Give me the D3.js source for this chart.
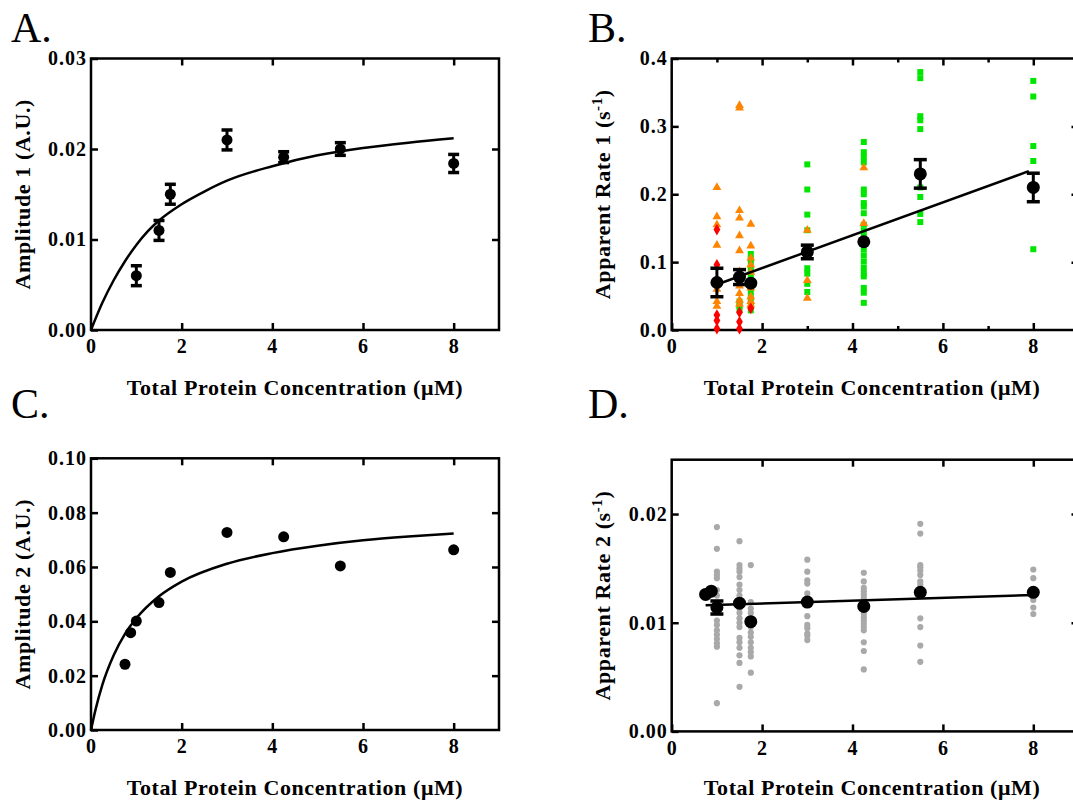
<!DOCTYPE html>
<html>
<head>
<meta charset="utf-8">
<script src="https://cdn.jsdelivr.net/npm/d3@7"></script>
<style>
  body { margin: 0; background: #fff; }
  svg text { font-family: "Liberation Serif", "Times New Roman", serif; }
</style>
</head>
<body>
<svg id="chart" width="1073" height="801"></svg>
<script>
// ---- panel A: amplitude 1 ----
const concA = [1, 1.5, 1.75, 3, 4.25, 5.5, 8];
const amp1 = [0.006, 0.011, 0.015, 0.021, 0.0191, 0.02, 0.0184];
const amp1Err = [0.0011, 0.0011, 0.0011, 0.0011, 0.0006, 0.0007, 0.001];
const amp1FitX = [0, 0.25, 0.5, 0.75, 1, 1.25, 1.5, 2, 2.5, 3, 4, 5, 6, 7, 8];
const amp1FitY = [0, 0.003, 0.0055, 0.0076, 0.0094, 0.0109, 0.0121, 0.0139, 0.0153, 0.0165, 0.0181, 0.0193, 0.0201, 0.0207, 0.0212];

// ---- panel B: apparent rate 1 ----
const concB = [1, 1.5, 1.75, 3, 4.25, 5.5, 8];
const rate1 = [0.07, 0.078, 0.069, 0.115, 0.13, 0.23, 0.21];
const rate1Err = [0.021, 0.011, 0, 0.01, 0, 0.021, 0.021];
const rate1LineX = [1, 7.9];
const rate1LineY = [0.067, 0.234];
const rate1Green = [
  [1.5, [0.042, 0.036, 0.03]],
  [1.75, [0.112, 0.105, 0.098, 0.09, 0.082, 0.074, 0.066, 0.058, 0.05, 0.043, 0.036, 0.029]],
  [3, [0.244, 0.207, 0.17, 0.147, 0.12, 0.11, 0.091, 0.083, 0.068, 0.056]],
  [4.25, [0.277, 0.262, 0.255, 0.247, 0.207, 0.2, 0.187, 0.182, 0.172, 0.155, 0.146, 0.137, 0.128,
          0.119, 0.11, 0.101, 0.092, 0.084, 0.079, 0.062, 0.055, 0.04]],
  [5.5, [0.38, 0.371, 0.315, 0.309, 0.296, 0.21, 0.196, 0.171, 0.159]],
  [8, [0.367, 0.344, 0.271, 0.249, 0.119]]
];
const rate1Orange = [
  [1, [0.21, 0.167, 0.155, 0.125, 0.06, 0.042, 0.035]],
  [1.5, [0.331, 0.327, 0.176, 0.165, 0.139, 0.117, 0.086, 0.065, 0.054, 0.044, 0.038]],
  [1.75, [0.156, 0.124, 0.106, 0.096, 0.085, 0.062, 0.049, 0.042, 0.037]],
  [3, [0.147, 0.073, 0.047]],
  [4.25, [0.239, 0.157]]
];
const rate1Red = [
  [1, [0.148, 0.096, 0.022, 0.014, 0.002]],
  [1.5, [0.026, 0.012, 0.002]],
  [1.75, [0.032]]
];

// ---- panel C: amplitude 2 ----
const concC = [0.75, 0.875, 1, 1.5, 1.75, 3, 4.25, 5.5, 8];
const amp2 = [0.0242, 0.0358, 0.0401, 0.0469, 0.058, 0.0727, 0.0711, 0.0604, 0.0663];
const amp2FitX = [0, 0.1, 0.25, 0.5, 0.75, 1, 1.5, 2, 3, 4, 5, 6, 7, 8];
const amp2FitY = [0, 0.0075, 0.0166, 0.0275, 0.0354, 0.0411, 0.0492, 0.0546, 0.0612, 0.0651, 0.0678, 0.0698, 0.0712, 0.0723];

// ---- panel D: apparent rate 2 ----
const concD = [0.75, 0.875, 1, 1.5, 1.75, 3, 4.25, 5.5, 8];
const rate2 = [0.0126, 0.0129, 0.0114, 0.0118, 0.0101, 0.0119, 0.0115, 0.0128, 0.0128];
const rate2Err = [0, 0, 0.0006, 0, 0, 0, 0, 0, 0];
const rate2LineX = [0.75, 8];
const rate2LineY = [0.0116, 0.01255];
const rate2Grey = [
  [1, [0.0188, 0.0168, 0.0147, 0.0144, 0.0141, 0.013, 0.0125, 0.0102, 0.0098, 0.0093, 0.0089, 0.0085, 0.0081, 0.0078, 0.0026]],
  [1.5, [0.0175, 0.0153, 0.015, 0.0147, 0.0142, 0.0135, 0.013, 0.0125, 0.0113, 0.0109, 0.0104, 0.01, 0.0096,
         0.0086, 0.0082, 0.0077, 0.007, 0.0063, 0.0041]],
  [1.75, [0.0153, 0.0119, 0.0113, 0.0109, 0.0104, 0.0096, 0.0091, 0.0087, 0.0082, 0.0077, 0.0073, 0.0069, 0.0054]],
  [3, [0.0158, 0.0147, 0.0139, 0.0136, 0.0127, 0.0122, 0.0106, 0.0098, 0.0095, 0.009, 0.0088, 0.0084]],
  [4.25, [0.0146, 0.0138, 0.0132, 0.0129, 0.0126, 0.0123, 0.012, 0.0117, 0.0114, 0.0111, 0.0108, 0.0105,
          0.0102, 0.0099, 0.0096, 0.0093, 0.0082, 0.0074, 0.0057]],
  [5.5, [0.0191, 0.0182, 0.0153, 0.0151, 0.0148, 0.0144, 0.0138, 0.0135, 0.0131, 0.0104, 0.0096, 0.0079, 0.0064]],
  [8, [0.0149, 0.0141, 0.0121, 0.0114, 0.0108]]
];

const xTicks = [0, 2, 4, 6, 8];
const xLabel = "Total Protein Concentration (\u03bcM)";

const svg = d3.select("#chart");

function panel(o) {
  const x = d3.scaleLinear().domain([0, o.xMax]).range([o.left, o.right]);
  const y = d3.scaleLinear().domain([0, o.yMax]).range([o.bottom, o.top]);
  const g = svg.append("g");
  const inner = o.yTicks.filter((d) => d > 0 && d < o.yMax);

  g.append("g")
    .attr("transform", `translate(0,${o.bottom})`)
    .call(d3.axisBottom(x).tickValues(xTicks).tickSize(-7).tickPadding(9).tickFormat(d3.format("d")));
  g.append("g")
    .attr("transform", `translate(0,${o.top})`)
    .call(d3.axisTop(x).tickValues(xTicks.slice(1)).tickSize(-7).tickFormat(""));
  g.append("g")
    .attr("transform", `translate(${o.left},0)`)
    .call(d3.axisLeft(y).tickValues(o.yTicks).tickSize(-7).tickPadding(4).tickFormat(d3.format(o.fmt)));
  g.append("g")
    .attr("transform", `translate(${o.right},0)`)
    .call(d3.axisRight(y).tickValues(inner).tickSize(-7).tickFormat(""));
  if (o.minor) {
    g.append("g")
      .attr("transform", `translate(0,${o.bottom})`)
      .call(d3.axisBottom(x).tickValues(o.minor).tickSize(-4).tickFormat(""));
    g.append("g")
      .attr("transform", `translate(0,${o.top})`)
      .call(d3.axisTop(x).tickValues(o.minor).tickSize(-4).tickFormat(""));
  }
  g.selectAll(".domain").remove();
  g.selectAll(".tick line").attr("stroke", "#000").attr("stroke-width", 2.5);
  g.selectAll(".tick text")
    .attr("fill", "#000")
    .style("font-size", "20px")
    .style("font-weight", "bold")
    .style("letter-spacing", "1px");

  g.append("rect")
    .attr("x", o.left).attr("y", o.top)
    .attr("width", o.right - o.left).attr("height", o.bottom - o.top)
    .attr("fill", "none").attr("stroke", "#000").attr("stroke-width", 2.5);

  // panel letter
  svg.append("text")
    .attr("x", o.letterX).attr("y", o.letterY)
    .style("font-size", "42px")
    .text(o.letter);

  // x title
  svg.append("text")
    .attr("x", (o.left + Math.min(o.right, 1073 + 6)) / 2 - (o.right > 1073 ? 3 : 0))
    .attr("y", o.xTitleY)
    .attr("text-anchor", "middle")
    .style("font-size", "22px").style("font-weight", "bold").style("letter-spacing", "0.6px")
    .text(xLabel);

  // y title
  const yt = svg.append("text")
    .attr("transform", `translate(${o.yTitleX},${(o.top + o.bottom) / 2}) rotate(-90)`)
    .attr("text-anchor", "middle")
    .style("font-size", "22px").style("font-weight", "bold").style("letter-spacing", "0.6px");
  if (o.sup) {
    yt.append("tspan").text(o.yTitle);
    yt.append("tspan").attr("dy", -8).style("font-size", "15px").text("-1");
    yt.append("tspan").attr("dy", 8).text(")");
  } else {
    yt.text(o.yTitle);
  }

  return { g, x, y };
}

function errorBars(p, xs, ys, es, capW) {
  xs.forEach((xv, i) => {
    if (!es[i]) return;
    const cx = p.x(xv), y0 = p.y(ys[i] - es[i]), y1 = p.y(ys[i] + es[i]);
    p.g.append("line").attr("x1", cx).attr("x2", cx).attr("y1", y0).attr("y2", y1)
      .attr("stroke", "#000").attr("stroke-width", 3);
    [y0, y1].forEach((yy) => {
      p.g.append("line").attr("x1", cx - capW / 2).attr("x2", cx + capW / 2)
        .attr("y1", yy).attr("y2", yy)
        .attr("stroke", "#000").attr("stroke-width", 3.5);
    });
  });
}

function dots(p, xs, ys, r) {
  p.g.selectAll(null).data(xs).enter().append("circle")
    .attr("cx", (d) => p.x(d)).attr("cy", (d, i) => p.y(ys[i]))
    .attr("r", r).attr("fill", "#000");
}

function fitLine(p, xs, ys, curve) {
  const line = d3.line().x((d) => p.x(d)).y((d, i) => p.y(ys[i])).curve(curve);
  p.g.append("path").attr("d", line(xs))
    .attr("fill", "none").attr("stroke", "#000").attr("stroke-width", 2.5);
}

function scatter(p, groups, type, size, color) {
  const pts = groups.flatMap(([c, vals]) => vals.map((v) => [c, v]));
  p.g.selectAll(null).data(pts).enter().append("path")
    .attr("transform", (d) => `translate(${p.x(d[0])},${p.y(d[1])})`)
    .attr("d", d3.symbol().type(type).size(size))
    .attr("fill", color);
}

// A
const pA = panel({
  left: 91, right: 499, top: 58.5, bottom: 330, xMax: 9, yMax: 0.03,
  yTicks: [0, 0.01, 0.02, 0.03], fmt: ".2f",
  letter: "A.", letterX: 11, letterY: 42, xTitleY: 395, yTitleX: 30,
  yTitle: "Amplitude 1 (A.U.)"
});
fitLine(pA, amp1FitX, amp1FitY, d3.curveMonotoneX);
errorBars(pA, concA, amp1, amp1Err, 11);
dots(pA, concA, amp1, 5.5);

// B
const pB = panel({
  left: 671.7, right: 1078.5, top: 58.5, bottom: 330, xMax: 9, yMax: 0.4,
  yTicks: [0, 0.1, 0.2, 0.3, 0.4], fmt: ".1f", minor: [1, 3, 5, 7],
  letter: "B.", letterX: 588, letterY: 42, xTitleY: 395, yTitleX: 610,
  yTitle: "Apparent Rate 1 (s", sup: true
});
scatter(pB, rate1Green, d3.symbolSquare, 36, "#00e600");
scatter(pB, rate1Orange, d3.symbolTriangle, 34, "#ff8400");
scatter(pB, rate1Red, d3.symbolDiamond, 40, "#ff0000");
fitLine(pB, rate1LineX, rate1LineY, d3.curveLinear);
errorBars(pB, concB, rate1, rate1Err, 13);
dots(pB, concB, rate1, 6.5);

// C
const pC = panel({
  left: 91, right: 499, top: 458.3, bottom: 730, xMax: 9, yMax: 0.1,
  yTicks: [0, 0.02, 0.04, 0.06, 0.08, 0.1], fmt: ".2f",
  letter: "C.", letterX: 11, letterY: 418, xTitleY: 795, yTitleX: 30,
  yTitle: "Amplitude 2 (A.U.)"
});
fitLine(pC, amp2FitX, amp2FitY, d3.curveMonotoneX);
dots(pC, concC, amp2, 5.5);

// D
const pD = panel({
  left: 671.7, right: 1078.5, top: 459.7, bottom: 731.4, xMax: 9, yMax: 0.025,
  yTicks: [0, 0.01, 0.02], fmt: ".2f",
  letter: "D.", letterX: 588, letterY: 418, xTitleY: 795, yTitleX: 610,
  yTitle: "Apparent Rate 2 (s", sup: true
});
scatter(pD, rate2Grey, d3.symbolCircle, 30, "#a9a9a9");
fitLine(pD, rate2LineX, rate2LineY, d3.curveLinear);
errorBars(pD, concD, rate2, rate2Err, 13);
dots(pD, concD, rate2, 6.5);
</script>
</body>
</html>
